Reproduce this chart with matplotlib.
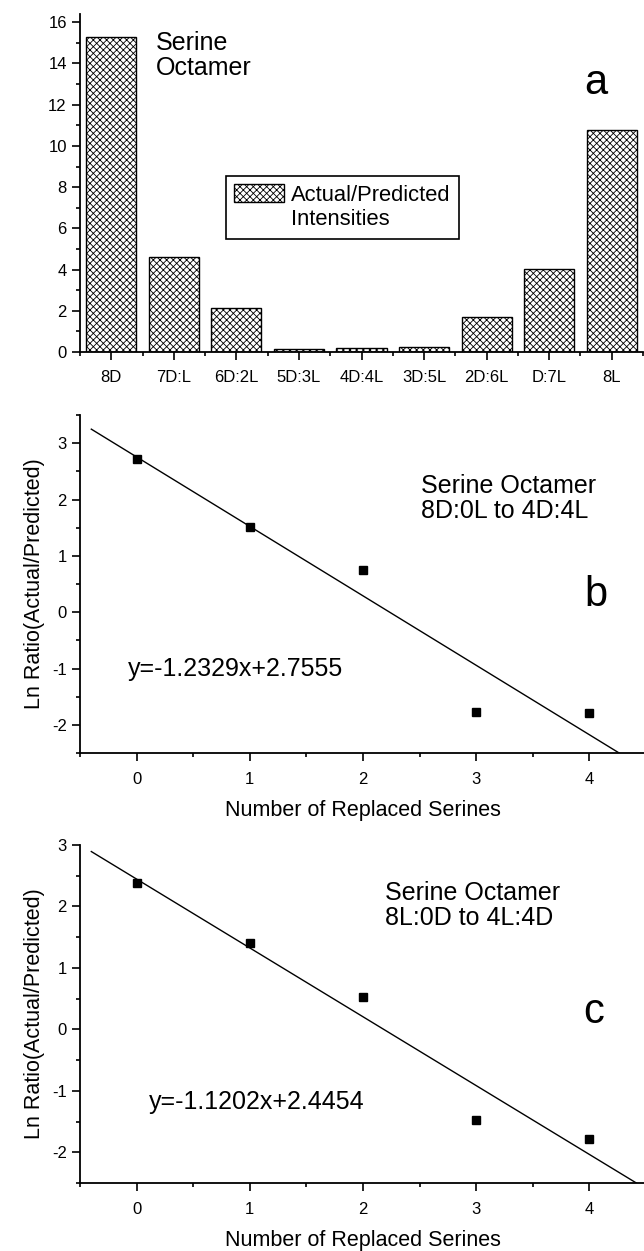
import matplotlib.pyplot as plt
import numpy as np
from matplotlib.ticker import MultipleLocator
from matplotlib.patches import Rectangle

plt.rcParams['font.family'] = ['Liberation Sans', 'DejaVu Sans']
plt.rcParams['hatch.linewidth'] = 0.6
plt.rcParams['axes.unicode_minus'] = False

# panel a
categories = ['8D', '7D:L', '6D:2L', '5D:3L', '4D:4L', '3D:5L', '2D:6L', 'D:7L', '8L']
intensities = [15.3, 4.6, 2.15, 0.15, 0.17, 0.22, 1.7, 4.05, 10.75]

# panel b
x_b = [0, 1, 2, 3, 4]
ln_b = [2.72, 1.52, 0.75, -1.78, -1.79]
slope_b, icpt_b = -1.2329, 2.7555

# panel c
x_c = [0, 1, 2, 3, 4]
ln_c = [2.38, 1.40, 0.52, -1.47, -1.78]
slope_c, icpt_c = -1.1202, 2.4454

W, H = 644, 1251
fig = plt.figure(figsize=(W / 100, H / 100), dpi=100)


def px(left, top, right, bottom):
    return [left / W, 1 - bottom / H, (right - left) / W, (bottom - top) / H]


def style(ax):
    ax.spines['top'].set_visible(False)
    ax.spines['right'].set_visible(False)
    for s in ('left', 'bottom'):
        ax.spines[s].set_linewidth(1.3)
    ax.tick_params(direction='out', length=6, width=1.2, labelsize=12)
    ax.tick_params(which='minor', direction='out', length=3, width=1.2)


# --- a ---
ax = fig.add_axes(px(80, 14, 643, 352))
idx = np.arange(len(categories))
ax.bar(idx, intensities, width=0.8, color='white', edgecolor='black',
       hatch='xxxxx', linewidth=1, label='Actual/Predicted')
ax.set_xlim(-0.5, 8.5)
ax.set_ylim(0, 16.4)
ax.set_xticks(idx)
ax.set_xticklabels(categories)
ax.xaxis.set_minor_locator(MultipleLocator(1, offset=0.5))
ax.yaxis.set_major_locator(MultipleLocator(2))
ax.yaxis.set_minor_locator(MultipleLocator(1))
style(ax)
ax.tick_params(axis='x', pad=7)
ax.text(0.135, 0.95, 'Serine\nOctamer', transform=ax.transAxes, fontsize=18,
        va='top', ha='left', linespacing=1.05)
ax.text(0.895, 0.795, 'a', transform=ax.transAxes, fontsize=30, ha='left', va='center')
# empty second entry so the hatch box sits beside the first line only
blank = Rectangle((0, 0), 1, 1, facecolor='none', edgecolor='none', linewidth=0)
handles, labels = ax.get_legend_handles_labels()
leg = ax.legend(handles + [blank], labels + ['Intensities'], loc='upper left',
                bbox_to_anchor=(0.259, 0.521), borderaxespad=0, fontsize=15.8,
                frameon=True, fancybox=False, edgecolor='black', handlelength=2.25,
                handleheight=0.9, handletextpad=0.35, borderpad=0.38,
                labelspacing=0.12, framealpha=1)
leg.get_frame().set_linewidth(1.2)


def line_panel(rect, xs, ys, slope, icpt, ylim, label_txt, eq_pos, info_pos, letter_pos, letter):
    ax = fig.add_axes(rect)
    xl = np.array([-0.4, 4.5])
    ax.plot(xl, slope * xl + icpt, color='black', linewidth=1)
    ax.plot(xs, ys, 's', color='black', markersize=6)
    ax.set_xlim(-0.5, 4.5)
    ax.set_ylim(*ylim)
    ax.xaxis.set_major_locator(MultipleLocator(1))
    ax.xaxis.set_minor_locator(MultipleLocator(0.5))
    ax.yaxis.set_major_locator(MultipleLocator(1))
    ax.yaxis.set_minor_locator(MultipleLocator(0.5))
    style(ax)
    ax.tick_params(axis='x', pad=8)
    ax.set_xlabel('Number of Replaced Serines', fontsize=15.5, labelpad=9)
    ax.set_ylabel('Ln Ratio(Actual/Predicted)', fontsize=15.5, labelpad=5)
    sign = '+' if icpt >= 0 else '-'
    ax.text(*eq_pos, f'y={slope}x{sign}{abs(icpt)}', fontsize=18, va='center')
    ax.text(*info_pos, label_txt, fontsize=18, va='top', linespacing=1.05)
    ax.text(*letter_pos, letter, fontsize=30, va='center')
    return ax


line_panel(px(80, 415, 646, 753), x_b, ln_b, slope_b, icpt_b, (-2.5, 3.5),
           'Serine Octamer\n8D:0L to 4D:4L', (-0.08, -1.0), (2.51, 2.45), (3.96, 0.31), 'b')
line_panel(px(80, 845, 646, 1183), x_c, ln_c, slope_c, icpt_c, (-2.5, 3.0),
           'Serine Octamer\n8L:0D to 4L:4D', (0.11, -1.19), (2.19, 2.42), (3.95, 0.29), 'c')

fig.savefig('out.png', dpi=100)
